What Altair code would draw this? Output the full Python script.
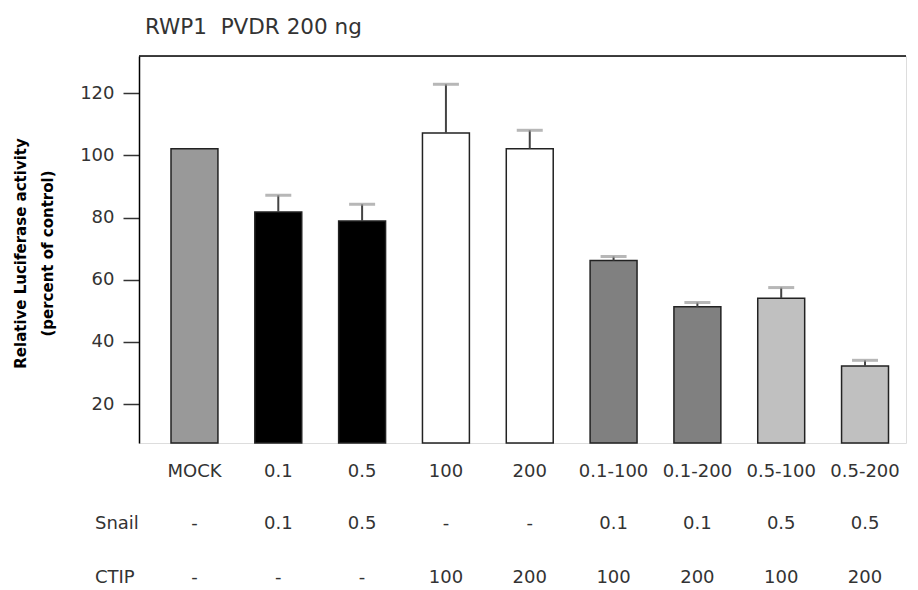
import altair as alt
import pandas as pd

# Luciferase reporter activity (percent of control) per transfection condition
categories = ["MOCK", "0.1", "0.5", "100", "200", "0.1-100", "0.1-200", "0.5-100", "0.5-200"]
activity = [102.2, 81.8, 78.9, 107.2, 102.2, 66.2, 51.3, 54.1, 32.3]
error = [None, 5.4, 5.4, 15.7, 5.9, 1.3, 1.4, 3.4, 1.8]
snail = ["-", "0.1", "0.5", "-", "-", "0.1", "0.1", "0.5", "0.5"]
ctip = ["-", "-", "-", "100", "200", "100", "200", "100", "200"]
fills = ["#999999", "#000000", "#000000", "#ffffff", "#ffffff",
         "#808080", "#808080", "#c0c0c0", "#c0c0c0"]
y_ticks = [20, 40, 60, 80, 100, 120]
Y_MIN, Y_MAX = 7.5, 132

W, H = 767, 387
FONT = "DejaVu Sans"
TXT = "#333333"

df = pd.DataFrame(dict(cat=categories, value=activity, err=error,
                       snail=snail, ctip=ctip, fill=fills))

x_enc = alt.X(
    "cat:N", sort=categories,
    scale=alt.Scale(range=[32, 749.5], paddingInner=0.44, paddingOuter=0),
    axis=alt.Axis(title=None, labelAngle=0, ticks=False, tickSize=0, domain=False,
                  labelFont=FONT, labelFontSize=18, labelColor=TXT, labelPadding=19),
)
x_plain = alt.X("cat:N", sort=categories)

y_scale = alt.Scale(domain=[Y_MIN, Y_MAX], nice=False, zero=False)

base = alt.Chart(df)

bars = base.mark_bar(stroke="#222222", strokeWidth=1.5).encode(
    x=x_enc,
    y=alt.Y(
        "value:Q", scale=y_scale,
        axis=alt.Axis(
            values=y_ticks, grid=False, tickSize=16, tickColor="#333333", tickWidth=1.5,
            domainColor="#000000", domainWidth=1.5,
            labelFont=FONT, labelFontSize=18, labelColor=TXT, labelPadding=9,
            title=["Relative Luciferase activity", "(percent of control)"],
            titleFont=FONT, titleFontSize=15, titleFontWeight="bold", titleColor="#000000",
            titleAngle=270, titleAlign="center", titleBaseline="middle",
            titleLineHeight=27, titleX=-119, titleY=197,
        ),
    ),
    y2=alt.datum(Y_MIN),
    fill=alt.Fill("fill:N", scale=None),
)

err_base = base.transform_filter("isValid(datum.err)").transform_calculate(
    upper="datum.value + datum.err"
)

stems = err_base.mark_rule(color="#444444", strokeWidth=2).encode(
    x=x_plain, y=alt.Y("value:Q", scale=y_scale), y2="upper:Q"
)

caps = err_base.mark_tick(color="#999999", thickness=3, size=26).encode(
    x=x_plain, y=alt.Y("upper:Q", scale=y_scale)
)

row_style = dict(font=FONT, fontSize=18, color=TXT, baseline="middle")

snail_row = base.mark_text(**row_style).encode(
    x=x_plain, y=alt.value(468), text="snail:N"
)
ctip_row = base.mark_text(**row_style).encode(
    x=x_plain, y=alt.value(522), text="ctip:N"
)

snail_label = alt.Chart(pd.DataFrame({"t": ["Snail"]})).mark_text(
    align="left", **row_style
).encode(x=alt.value(-44), y=alt.value(468), text="t:N")

ctip_label = alt.Chart(pd.DataFrame({"t": ["CTIP"]})).mark_text(
    align="left", **row_style
).encode(x=alt.value(-44), y=alt.value(522), text="t:N")

heading = alt.Chart(pd.DataFrame({"t": ["RWP1\u00a0 PVDR 200 ng"]})).mark_text(
    align="left", font=FONT, fontSize=21.5, color=TXT, baseline="middle"
).encode(x=alt.value(6), y=alt.value(-28), text="t:N")

top_line = alt.Chart(pd.DataFrame({"t": [0]})).mark_rule(
    color="#000000", strokeWidth=1.5
).encode(x=alt.value(0), x2=alt.value(W), y=alt.value(0))

chart = alt.layer(
    bars, stems, caps, snail_row, ctip_row, snail_label, ctip_label, heading, top_line
).properties(
    width=W, height=H,
    autosize=alt.AutoSizeParams(type="none"),
    padding={"left": 139, "top": 56, "right": 12, "bottom": 147},
).configure_view(stroke="#999999", strokeWidth=2).configure(background="white")

chart.save("out.html", embed_options={"renderer": "svg", "actions": False})
